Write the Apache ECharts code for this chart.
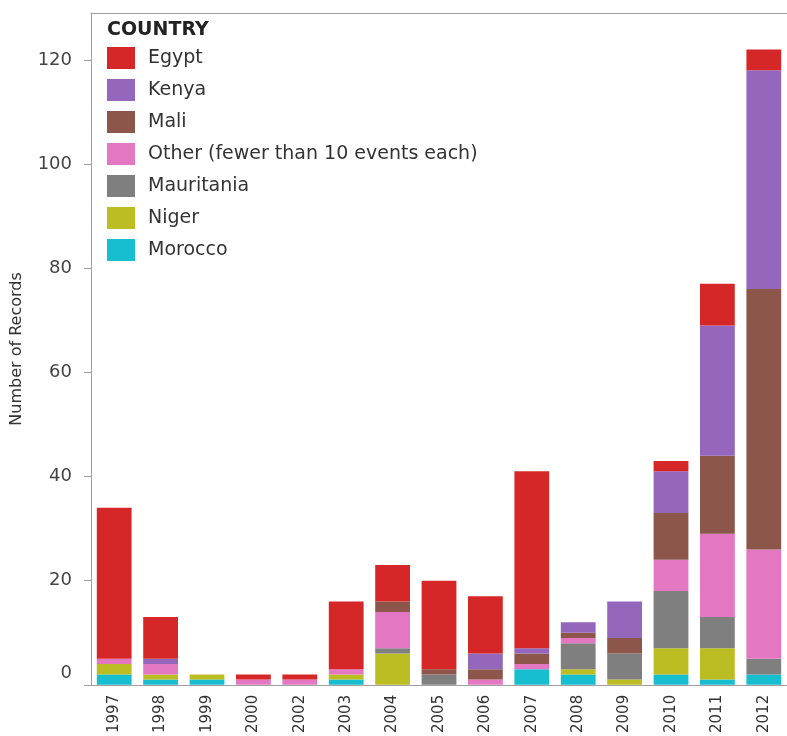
<!DOCTYPE html>
<html>
<head>
<meta charset="utf-8">
<script src="https://cdn.jsdelivr.net/npm/echarts@6/dist/echarts.min.js"></script>
<style>
  html, body { margin: 0; padding: 0; background: #fff; overflow: hidden; }
  #main { width: 787px; height: 736px; }
</style>
</head>
<body>
<div id="main"></div>
<script>
// years on the x axis (no 2001 in the source)
var years = ['1997', '1998', '1999', '2000', '2002', '2003', '2004', '2005', '2006', '2007', '2008', '2009', '2010', '2011', '2012'];
var yTicks = [0, 20, 40, 60, 80, 100, 120];

// counts per country, stacked bottom -> top
var morocco    = [2, 1, 1, 0, 0, 1, 0, 0, 0, 3, 2, 0, 2, 1, 2];
var niger      = [2, 1, 1, 0, 0, 1, 6, 0, 0, 0, 1, 1, 5, 6, 0];
var mauritania = [0, 0, 0, 0, 0, 0, 1, 2, 0, 0, 5, 5, 11, 6, 3];
var other      = [1, 2, 0, 1, 1, 1, 7, 0, 1, 1, 1, 0, 6, 16, 21];
var mali       = [0, 0, 0, 0, 0, 0, 2, 1, 2, 2, 1, 3, 9, 15, 50];
var kenya      = [0, 1, 0, 0, 0, 0, 0, 0, 3, 1, 2, 7, 8, 25, 42];
var egypt      = [29, 8, 0, 1, 1, 13, 7, 17, 11, 34, 0, 0, 2, 8, 4];

var legendOrder = ['Egypt', 'Kenya', 'Mali', 'Other (fewer than 10 events each)', 'Mauritania', 'Niger', 'Morocco'];

var font = 'DejaVu Sans';
var axisGrey = '#a0a0a0';

function bar(name, data, color) {
  return {
    name: name,
    type: 'bar',
    stack: 'total',
    barCategoryGap: '25%',
    data: data,
    itemStyle: { color: color }
  };
}

var myChart = echarts.init(document.getElementById('main'));
var option = {
  animation: false,
  textStyle: { fontFamily: font },
  title: {
    text: 'COUNTRY',
    left: 107,
    top: 21,
    padding: 0,
    textStyle: { fontFamily: font, fontSize: 19, fontWeight: 'bold', color: '#222' }
  },
  legend: {
    orient: 'vertical',
    left: 107,
    top: 47,
    padding: 0,
    icon: 'rect',
    itemWidth: 28,
    itemHeight: 22,
    itemGap: 10,
    data: legendOrder,
    textStyle: { fontFamily: font, fontSize: 19, color: '#333', padding: [0, 0, 0, 8] }
  },
  grid: { left: 91, top: 13, right: -8, bottom: 49 },
  xAxis: [
    {
      type: 'category',
      data: years,
      axisLine: { lineStyle: { color: axisGrey } },
      axisTick: { length: 7, lineStyle: { color: axisGrey } },
      axisLabel: { rotate: 90, margin: 10, fontSize: 15, color: '#333', fontFamily: font }
    },
    {
      // top border line of the plot
      type: 'category',
      data: years,
      position: 'top',
      axisLine: { lineStyle: { color: axisGrey } },
      axisTick: { show: false },
      axisLabel: { show: false }
    }
  ],
  yAxis: {
    type: 'value',
    min: 0,
    max: 129,
    name: 'Number of Records',
    nameLocation: 'middle',
    nameGap: 66,
    nameTextStyle: { fontFamily: font, fontSize: 16, color: '#333' },
    axisLine: { show: true, lineStyle: { color: axisGrey } },
    axisTick: { show: true, length: 7, customValues: yTicks, lineStyle: { color: axisGrey } },
    splitLine: { show: false },
    axisLabel: {
      customValues: yTicks,
      margin: 19,
      fontSize: 18,
      color: '#444',
      fontFamily: font,
      formatter: function (v) { return v === 0 ? '{lift|0}' : String(v); },
      rich: { lift: { fontSize: 18, color: '#444', fontFamily: font, padding: [0, 0, 22, 0] } }
    }
  },
  series: [
    bar('Morocco', morocco, '#17becf'),
    bar('Niger', niger, '#bcbd22'),
    bar('Mauritania', mauritania, '#7f7f7f'),
    bar('Other (fewer than 10 events each)', other, '#e377c2'),
    bar('Mali', mali, '#8c564b'),
    bar('Kenya', kenya, '#9467bd'),
    bar('Egypt', egypt, '#d62728')
  ]
};
myChart.setOption(option);
</script>
</body>
</html>
